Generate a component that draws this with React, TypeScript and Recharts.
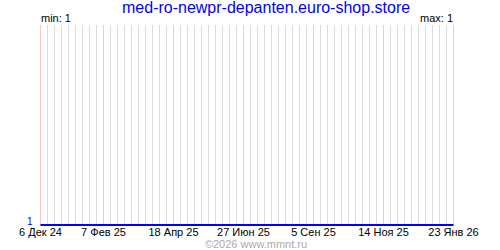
import { Line, LineChart, ReferenceLine, XAxis, YAxis } from "recharts";

// ---------------------------------------------------------------------------
// Data — days counted from 6 Dec 2024, one value per sample
// ---------------------------------------------------------------------------

const siteName = "med-ro-newpr-depanten.euro-shop.store";
const sampleDays = [0, 413];
const sampleValues = [1, 1];
const tickDays = [0, 63, 133, 203, 273, 343, 413];
const tickLabels = ["6 Дек 24", "7 Фев 25", "18 Апр 25", "27 Июн 25", "5 Сен 25", "14 Ноя 25", "23 Янв 26"];
const minValue = 1;
const maxValue = 1;

// weekly grid lines across the whole range
const weekDays = Array.from({ length: 60 }, (_, i) => i * 7);

const rows = sampleDays.map((day, i) => ({ day, value: sampleValues[i] }));

const FONT = "'Liberation Sans', Arial, sans-serif";

export default function App() {
  const labelFor = (day: number) => tickLabels[tickDays.indexOf(day)] ?? "";

  return (
    <div style={{ position: "absolute", left: 0, top: 0, width: 500, height: 250, background: "#fff" }}>
      {/* half-pixel offsets keep the 1px grid lines crisp */}
      <LineChart width={500} height={250} data={rows} margin={{ top: 25, right: 0, bottom: 5, left: 0 }}>
        <XAxis
          dataKey="day"
          type="number"
          domain={[0, 413]}
          ticks={tickDays}
          tickFormatter={labelFor}
          interval={0}
          axisLine={false}
          tickLine={false}
          tickSize={0}
          tickMargin={3.5}
          height={20}
          tick={{ fontSize: 11, fill: "#000", fontFamily: FONT }}
        />
        <YAxis
          yAxisId="left"
          domain={[1, 2]}
          ticks={[1]}
          width={40.5}
          axisLine={false}
          tickLine={false}
          tickSize={0}
          tickMargin={8}
          tick={{ fontSize: 10, fill: "#0000ff", fontFamily: FONT, dy: -4 }}
        />
        <YAxis
          yAxisId="right"
          orientation="right"
          domain={[1, 2]}
          ticks={[1]}
          width={46.5}
          axisLine={false}
          tickLine={false}
          tickSize={0}
          tickMargin={9}
          tick={{ fontSize: 10, fill: "#0000ff", fontFamily: FONT, textAnchor: "start", dy: -4 }}
        />
        {weekDays.map((d) => (
          <ReferenceLine key={`w${d}`} yAxisId="left" x={d} stroke="#dcdcdc" strokeWidth={1} />
        ))}
        {tickDays.map((d) => (
          <ReferenceLine key={`t${d}`} yAxisId="left" x={d} stroke="#ffc4c4" strokeWidth={1} />
        ))}
        <Line
          yAxisId="left"
          dataKey="value"
          stroke="#0000ff"
          strokeWidth={2}
          dot={false}
          isAnimationActive={false}
        />
      </LineChart>
      <svg width={500} height={250} style={{ position: "absolute", left: 0, top: 0, pointerEvents: "none" }}>
        <text x={122} y={13} fontSize={16} fill="#0000ff" fontFamily={FONT}>
          {siteName}
        </text>
        <text x={41} y={22} fontSize={11} fill="#000" fontFamily={FONT}>
          {`min: ${minValue}`}
        </text>
        <text x={453} y={22} fontSize={11} fill="#000" fontFamily={FONT} textAnchor="end">
          {`max: ${maxValue}`}
        </text>
        <text x={256} y={247.5} fontSize={11} fill="#aaa" fontFamily={FONT} textAnchor="middle">
          ©2026 www.mmnt.ru
        </text>
      </svg>
    </div>
  );
}
